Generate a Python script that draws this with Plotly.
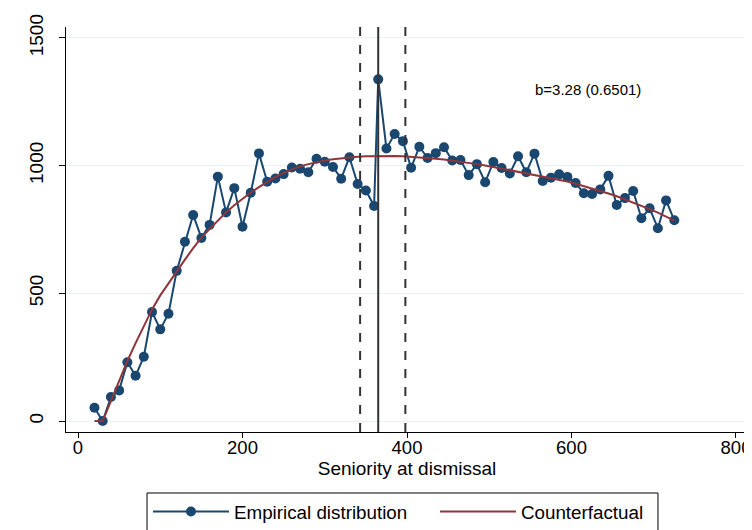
import plotly.graph_objects as go

# Seniority bins (days) -- special bin at the one-year mark
seniority = [20, 30, 40, 50, 60, 70, 80, 90, 100, 110, 120, 130, 140, 150, 160, 170, 180, 190,
             200, 210, 220, 230, 240, 250, 260, 270, 280, 290, 300, 310, 320, 330, 340, 350, 360,
             365, 375, 385, 395, 405, 415, 425, 435, 445, 455, 465, 475, 485, 495, 505, 515, 525,
             535, 545, 555, 565, 575, 585, 595, 605, 615, 625, 635, 645, 655, 665, 675, 685, 695,
             705, 715, 725]

empirical = [52, 0, 94, 120, 230, 177, 252, 427, 359, 420, 588, 702, 807, 717, 768, 957, 817, 912,
             761, 894, 1048, 937, 950, 967, 993, 988, 974, 1027, 1015, 995, 949, 1033, 928, 903, 842,
             1338, 1067, 1124, 1096, 992, 1074, 1030, 1049, 1072, 1020, 1022, 963, 1006, 935, 1014, 991, 969,
             1037, 974, 1047, 940, 953, 966, 956, 932, 892, 889, 907, 960, 846, 873, 901, 794, 833,
             755, 864, 786]

counterfactual = [0, 0, 78, 158, 235, 305, 373, 437, 492, 540, 587, 632, 677, 718, 752, 786, 817, 845,
                  871, 895, 916, 936, 956, 972, 986, 997, 1006, 1014, 1020, 1025, 1029, 1033, 1035, 1037, 1038,
                  1038, 1038, 1038, 1037, 1035, 1032, 1030, 1027, 1024, 1020, 1016, 1011, 1006, 1001, 995, 989, 983,
                  977, 971, 965, 958, 952, 947, 938, 929, 920, 910, 901, 891, 880, 868, 856, 843, 830,
                  816, 801, 785]

window_lines = [343, 398]   # dashed bounds
cutoff_line = 365           # solid line at one year
x_ticks = [0, 200, 400, 600, 800]
y_ticks = [0, 500, 1000, 1500]
note_text = "b=3.28 (0.6501)"

NAVY = '#1a476f'
MAROON = '#90353b'
FONT = 'Liberation Sans, Arial, sans-serif'

fig = go.Figure()

fig.add_trace(go.Scatter(
    x=seniority, y=empirical,
    mode='lines+markers',
    name='Empirical distribution',
    line=dict(color=NAVY, width=2),
    marker=dict(color=NAVY, size=10),
    legend='legend'
))

fig.add_trace(go.Scatter(
    x=seniority, y=counterfactual,
    mode='lines',
    name='Counterfactual',
    line=dict(color=MAROON, width=2),
    legend='legend2'
))

for xv in window_lines:
    fig.add_vline(x=xv, line=dict(color='#333333', width=2, dash='dash'))
fig.add_vline(x=cutoff_line, line=dict(color='#333333', width=2))

fig.add_annotation(
    x=620, y=1300, xref='x', yref='y',
    text=note_text, showarrow=False,
    font=dict(size=15, color='black', family=FONT)
)

# Stata-style legend frame around both keys
fig.add_shape(
    type='rect', xref='paper', yref='paper',
    x0=0.1188, x1=0.868, y0=-0.1506, y1=-0.28,
    line=dict(color='black', width=1), fillcolor='rgba(0,0,0,0)'
)

legend_style = dict(
    orientation='h',
    xanchor='left',
    y=-0.15, yanchor='top',
    borderwidth=0,
    bgcolor='rgba(0,0,0,0)',
    font=dict(size=18.8),
    itemwidth=76
)

# page body has an 8px margin, so the figure is a bit smaller than the window
fig.update_layout(
    width=744, height=522,
    autosize=False,
    plot_bgcolor='white',
    paper_bgcolor='white',
    margin=dict(l=58, r=4, t=19, b=98, autoexpand=False),
    font=dict(family=FONT, size=19, color='black'),
    showlegend=True,
    legend=dict(x=0.1202, **legend_style),
    legend2=dict(x=0.541, **legend_style)
)

fig.update_xaxes(
    range=[-14.6, 814.6],
    tickvals=x_ticks,
    tickfont=dict(size=18.5),
    ticks='outside', ticklen=5, tickcolor='black',
    ticklabelstandoff=-6,
    showline=True, linecolor='black', linewidth=1,
    showgrid=False, zeroline=False, automargin=False,
    title=dict(text='Seniority at dismissal', font=dict(size=19), standoff=0)
)

fig.update_yaxes(
    range=[-43, 1543],
    tickvals=y_ticks,
    tickangle=-90,
    ticks='outside', ticklen=6, tickcolor='black',
    ticklabelstandoff=8,
    showline=True, linecolor='black', linewidth=1,
    showgrid=True, gridcolor='#eaf2f3', gridwidth=1,
    zeroline=False, automargin=False
)

fig.write_html("out.html")
